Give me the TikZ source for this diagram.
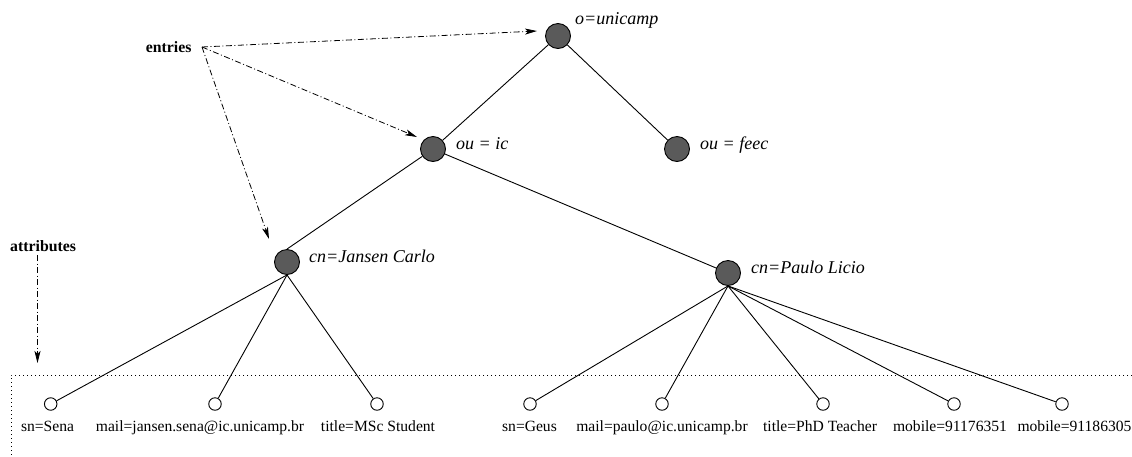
\documentclass[tikz,border=0pt]{standalone}
\usepackage{fontspec}
\setmainfont{Liberation Serif}
\usetikzlibrary{arrows.meta,calc}
\definecolor{nodegray}{RGB}{90,90,90}
\begin{document}
\begin{tikzpicture}[x=1pt,y=-1pt,
  entry/.style={circle,draw=black,fill=nodegray,line width=0.9pt,minimum size=25pt,inner sep=0pt},
  attr/.style={circle,draw=black,fill=white,line width=0.9pt,minimum size=12.5pt,inner sep=0pt},
  tlabel/.style={anchor=base west,inner sep=0pt,font=\fontsize{18}{20}\selectfont\itshape},
  blabel/.style={anchor=base west,inner sep=0pt,font=\fontsize{15.8}{18}\selectfont\bfseries},
  alabel/.style={anchor=base,inner sep=0pt,font=\fontsize{15.6}{18}\selectfont},
  edge/.style={line width=0.9pt},
  ptr/.style={line width=0.8pt,dash pattern=on 6pt off 2.5pt on 1pt off 2.5pt,-{Stealth[length=12pt,width=6pt,inset=3pt]}},
  boxline/.style={line width=0.8pt,dash pattern=on 1pt off 3pt}]
\useasboundingbox (0,0) rectangle (1132,456);

% entry nodes
\node[entry] (U)  at (558,36)  {};
\node[entry] (IC) at (433,149) {};
\node[entry] (FE) at (677,149) {};
\node[entry] (JC) at (287,262) {};
\node[entry] (PL) at (728,273) {};

% entry labels
\node[tlabel] (lU)  at (575,24)  {o=unicamp};
\node[tlabel] (lIC) at (456,149) {ou = ic};
\node[tlabel] (lFE) at (700,149) {ou = feec};
\node[tlabel] (lJC) at (309,262) {cn=Jansen Carlo};
\node[tlabel] (lPL) at (751,273) {cn=Paulo Licio};

% attribute nodes
\node[attr] (a1) at (50.7,404) {};
\node[attr] (a2) at (215,404)  {};
\node[attr] (a3) at (377,404)  {};
\node[attr] (b1) at (530,404)  {};
\node[attr] (b2) at (662,404)  {};
\node[attr] (b3) at (823,404)  {};
\node[attr] (b4) at (954,404)  {};
\node[attr] (b5) at (1062,404) {};

% attribute labels
\node[alabel] (ta1) at (47.5,431) {sn=Sena};
\node[alabel] (ta2) at (200,431)  {mail=jansen.sena@ic.unicamp.br};
\node[alabel] (ta3) at (378,431)  {title=MSc Student};
\node[alabel] (tb1) at (529.5,431) {sn=Geus};
\node[alabel] (tb2) at (662,431)  {mail=paulo@ic.unicamp.br};
\node[alabel] (tb3) at (820,431)  {title=PhD Teacher};
\node[alabel] (tb4) at (950,431)  {mobile=91176351};
\node[alabel] (tb5) at (1074.5,431) {mobile=91186305};

% tree edges
\draw[edge] (U) -- (IC);
\draw[edge] (U) -- (FE);
\draw[edge] (JC.north) -- (IC);
\draw[edge] (IC) -- (PL);
\foreach \a in {a1,a2,a3} \draw[edge] (JC.south) -- (\a);
\foreach \a in {b1,b2,b3,b4,b5} \draw[edge] (PL.south) -- (\a);

% legend labels and pointers
\node[blabel] (entries) at (145.7,52) {entries};
\node[blabel] (attributes) at (10,251) {attributes};
\coordinate (eo) at (202,47);
\coordinate (t1) at (537,31);
\coordinate (t2) at (417,137);
\coordinate (t3) at (269,239);
\draw[ptr] (eo) -- (t1);
\draw[ptr] (eo) -- (t2);
\draw[ptr] (eo) -- (t3);
\coordinate (ao) at (37.5,255);
\coordinate (at) at (37.5,363);
\draw[ptr] (ao) -- (at);

% dotted attribute region
\coordinate (bx1) at (1132,375);
\coordinate (bx2) at (11,375);
\coordinate (bx3) at (11,456);
\draw[boxline] (bx1) -- (bx2) -- (bx3);
\end{tikzpicture}
\end{document}
